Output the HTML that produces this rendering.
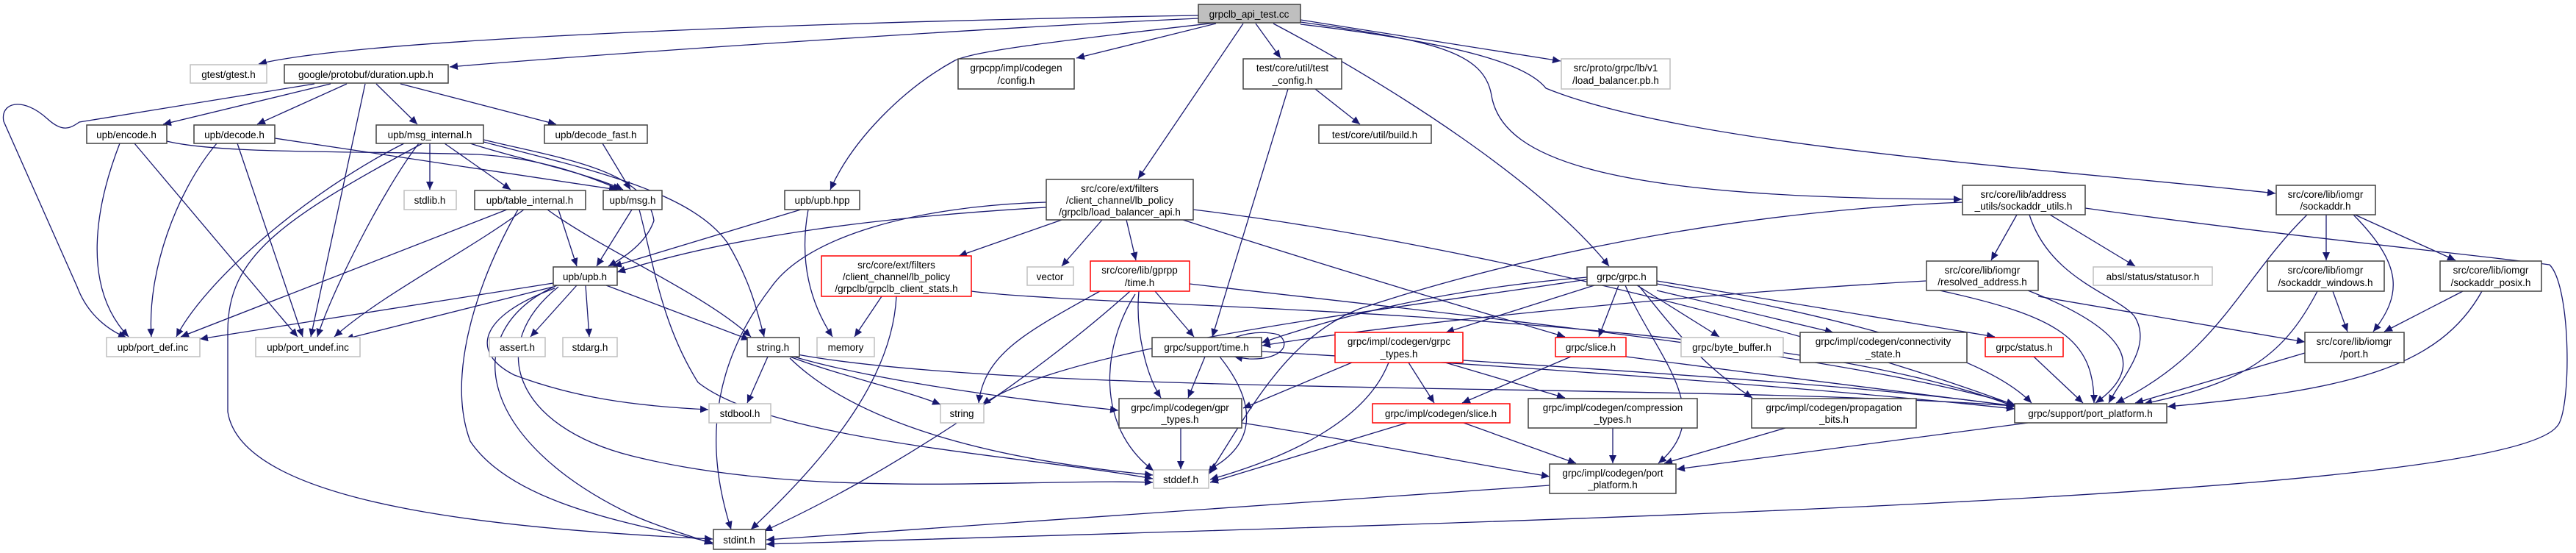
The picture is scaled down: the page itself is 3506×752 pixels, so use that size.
<!DOCTYPE html>
<html><head><meta charset="utf-8"><style>
html,body{margin:0;padding:0;background:#fff;}
svg{display:block;}
text{font-family:"Liberation Sans",sans-serif;font-size:13.5px;fill:#000;text-anchor:middle;}
.e{fill:none;stroke:#191970;stroke-width:1.3;marker-end:url(#a);}
.n{fill:#fff;stroke:#404040;stroke-width:1.5;}
.g{fill:#fff;stroke:#bfbfbf;stroke-width:1.5;}
.r{fill:#fff;stroke:#ff0000;stroke-width:1.5;}
</style></head><body>
<svg width="3506" height="752" viewBox="0 0 3506 752" xmlns="http://www.w3.org/2000/svg">
<defs><marker id="a" markerUnits="userSpaceOnUse" markerWidth="12" markerHeight="10" refX="11" refY="5" orient="auto"><path d="M0,0 L11,5 L0,10 z" fill="#191970"/></marker></defs>
<g>
<!-- root edges -->
<path class="e" d="M1631,21 C1200,28 500,50 352,87"/>
<path class="e" d="M1631,25 C1300,40 800,75 612,91"/>
<path class="e" d="M1655,31 C1400,60 1330,70 1300,82 C1230,120 1160,190 1130,258"/>
<path class="e" d="M1655,32 L1465,79"/>
<path class="e" d="M1692,32 L1549,243"/>
<path class="e" d="M1709,32 L1743,79"/>
<path class="e" d="M1733,32 C1900,120 2100,250 2190,362"/>
<path class="e" d="M1770,27 L2124,83"/>
<path class="e" d="M1770,30 C1950,55 2020,70 2030,130 C2045,220 2200,270 2670,271"/>
<path class="e" d="M1770,33 C2000,60 2080,90 2104,120 C2300,200 2800,230 3097,263"/>
<path class="e" d="M1790,121 L1851,169"/>
<path class="e" d="M1753,121 L1650,458"/>
<!-- duration -->
<path class="e" d="M428,114 L108,166 C95,175 85,180 65,162 C30,130 0,140 5,165 L105,390 C120,430 150,450 172,459"/>
<path class="e" d="M450,114 L222,169"/>
<path class="e" d="M472,114 L350,169"/>
<path class="e" d="M497,114 L423,458"/>
<path class="e" d="M512,114 L568,169"/>
<path class="e" d="M545,114 L757,169"/>
<!-- encode/decode -->
<path class="e" d="M163,195 C130,280 110,390 175,458"/>
<path class="e" d="M183,195 L405,458"/>
<path class="e" d="M227,192 C300,210 500,205 650,210 C740,215 800,240 845,258"/>
<path class="e" d="M295,195 C240,260 200,370 206,458"/>
<path class="e" d="M323,195 L412,458"/>
<path class="e" d="M374,188 L840,258"/>
<!-- msg_internal -->
<path class="e" d="M585,195 L585,258"/>
<path class="e" d="M605,195 L695,258"/>
<path class="e" d="M640,195 C700,215 800,235 848,258"/>
<path class="e" d="M658,190 C760,215 880,230 890,300 C880,330 850,350 828,362"/>
<path class="e" d="M658,193 C800,230 940,260 990,330 C1020,380 1030,420 1040,458"/>
<path class="e" d="M550,195 C420,260 280,380 240,458"/>
<path class="e" d="M570,195 C520,260 450,400 432,458"/>
<path class="e" d="M575,195 C380,300 310,350 310,450 L310,560 C330,690 700,720 970,733"/>
<!-- table_internal -->
<path class="e" d="M760,285 L785,362"/>
<path class="e" d="M745,285 C820,340 960,400 1022,458"/>
<path class="e" d="M690,285 L246,458"/>
<path class="e" d="M713,285 C640,340 520,400 455,458"/>
<path class="e" d="M705,285 C640,400 610,520 640,600 C700,690 880,715 970,738"/>
<path class="e" d="M820,195 L858,258"/>
<!-- msg.h -->
<path class="e" d="M860,285 L812,362"/>
<path class="e" d="M870,285 C890,360 900,440 950,520 C1050,600 1400,620 1569,651"/>
<!-- upb.hpp -->
<path class="e" d="M1090,285 L835,362"/>
<path class="e" d="M1100,285 C1090,340 1095,400 1133,458"/>
<!-- load_balancer_api -->
<path class="e" d="M1424,282 C1200,295 1000,320 840,370"/>
<path class="e" d="M1424,275 C1250,280 1100,320 1050,390 C950,520 970,640 995,720"/>
<path class="e" d="M1445,299 L1305,348"/>
<path class="e" d="M1500,299 L1445,362"/>
<path class="e" d="M1533,299 L1546,354"/>
<path class="e" d="M1610,299 C1800,360 2000,420 2130,458"/>
<path class="e" d="M1624,285 C2000,330 2500,460 2742,551"/>
<!-- client_stats -->
<path class="e" d="M1200,403 L1163,458"/>
<path class="e" d="M1220,403 C1215,500 1150,600 1022,720"/>
<path class="e" d="M1322,396 C1500,420 2400,420 2742,553"/>
<!-- gprpp time -->
<path class="e" d="M1497,396 C1400,450 1340,480 1332,548"/>
<path class="e" d="M1538,396 C1400,520 1200,650 1040,722"/>
<path class="e" d="M1550,396 C1545,450 1560,510 1580,541"/>
<path class="e" d="M1572,396 L1625,458"/>
<path class="e" d="M1545,400 C1500,470 1490,580 1570,640"/>
<path class="e" d="M1619,386 C2000,430 2500,480 2742,550"/>
<!-- upb.h -->
<path class="e" d="M753,385 L272,461"/>
<path class="e" d="M753,390 L470,461"/>
<path class="e" d="M785,388 L722,458"/>
<path class="e" d="M797,388 L802,458"/>
<path class="e" d="M825,388 L1020,462"/>
<path class="e" d="M755,392 C650,430 640,480 700,510 C780,540 860,552 964,557"/>
<path class="e" d="M758,388 C620,450 650,600 860,700 C900,718 940,728 970,740"/>
<path class="e" d="M760,390 C660,470 700,580 860,620 C1100,680 1400,650 1569,656"/>
<!-- string.h -->
<path class="e" d="M1045,485 L1017,548"/>
<path class="e" d="M1075,485 C1140,510 1230,530 1280,550"/>
<path class="e" d="M1080,485 C1200,520 1400,545 1522,558"/>
<path class="e" d="M1075,487 C1150,560 1300,620 1569,646"/>
<path class="e" d="M1085,482 C1400,540 2300,520 2742,552"/>
<!-- support time -->
<path class="e" d="M1680,459 C1700,452 1720,450 1740,455 C1760,470 1740,490 1700,488 C1690,487 1685,486 1680,485" style="marker-end:url(#a)"/>
<path class="e" d="M1640,485 L1617,541"/>
<path class="e" d="M1660,485 C1720,560 1700,610 1645,639"/>
<path class="e" d="M1717,478 C2100,500 2500,530 2742,556"/>
<!-- gpr_types -->
<path class="e" d="M1607,582 L1607,638"/>
<path class="e" d="M1690,575 C1850,600 2000,630 2109,648"/>
<!-- grpc.h -->
<path class="e" d="M2170,388 L1968,452"/>
<path class="e" d="M2203,388 L2176,458"/>
<path class="e" d="M2228,388 L2340,458"/>
<path class="e" d="M2255,395 L2495,452"/>
<path class="e" d="M2160,377 C2000,390 1850,420 1717,466"/>
<path class="e" d="M2160,380 C1900,420 1450,470 1337,550"/>
<path class="e" d="M2255,382 L2715,458"/>
<path class="e" d="M2255,386 C2500,430 2700,480 2765,548"/>
<path class="e" d="M2212,388 C2250,480 2340,560 2257,630"/>
<path class="e" d="M2230,388 C2280,450 2320,500 2385,541"/>
<!-- grpc_types -->
<path class="e" d="M1917,493 L1952,548"/>
<path class="e" d="M1967,493 L2130,541"/>
<path class="e" d="M1840,493 L1692,555"/>
<path class="e" d="M1890,493 C1860,570 1760,620 1647,652"/>
<path class="e" d="M1991,490 C2300,510 2600,530 2742,553"/>
<!-- slice.h -->
<path class="e" d="M2138,485 L1990,548"/>
<path class="e" d="M2213,485 C2400,510 2650,540 2742,552"/>
<!-- codegen slice -->
<path class="e" d="M1915,575 L1647,656"/>
<path class="e" d="M1992,575 L2145,630"/>
<path class="e" d="M2195,582 L2195,630"/>
<path class="e" d="M2430,582 L2265,630"/>
<path class="e" d="M2760,575 L2282,638"/>
<path class="e" d="M2109,660 L1043,734"/>
<path class="e" d="M2768,485 L2835,548"/>
<!-- sockaddr_utils -->
<path class="e" d="M2745,292 L2710,354"/>
<path class="e" d="M2790,292 L2906,362"/>
<path class="e" d="M2762,292 C2790,380 2880,400 2905,430 C2930,470 2890,510 2870,548"/>
<path class="e" d="M2671,275 C2300,290 2000,370 1850,420 C1750,460 1700,560 1645,645"/>
<path class="e" d="M2838,283 C3100,320 3400,350 3470,360 C3500,390 3500,560 3480,580 C3400,680 2000,710 1043,740"/>
<!-- resolved -->
<path class="e" d="M2774,403 L3137,465"/>
<path class="e" d="M2760,395 C2900,450 2920,500 2852,548"/>
<path class="e" d="M2621,382 C2300,400 1900,440 1718,470"/>
<path class="e" d="M2640,395 C2800,430 2850,460 2850,548"/>
<!-- sockaddr.h -->
<path class="e" d="M3166,292 L3166,354"/>
<path class="e" d="M3205,292 L3342,354"/>
<path class="e" d="M3203,292 C3270,360 3270,400 3230,451"/>
<path class="e" d="M3140,292 C3050,380 3020,480 2880,548"/>
<path class="e" d="M3154,396 C3110,480 3060,520 2918,549"/>
<path class="e" d="M3175,396 L3195,451"/>
<path class="e" d="M3352,396 L3245,451"/>
<path class="e" d="M3378,396 C3320,500 3200,530 2950,553"/>
<path class="e" d="M3137,480 L2906,548"/>
</g>
<g>
<rect class="n" x="1631" y="6" width="139" height="25" style="fill:#bfbfbf"/><text x="1700" y="24">grpclb_api_test.cc</text>
<rect class="g" x="259" y="88" width="104" height="25"/><text x="311" y="106">gtest/gtest.h</text>
<rect class="n" x="387" y="88" width="223" height="25"/><text x="498" y="106">google/protobuf/duration.upb.h</text>
<rect class="n" x="1304" y="80" width="158" height="41"/><text x="1383" y="97">grpcpp/impl/codegen</text><text x="1383" y="114">/config.h</text>
<rect class="n" x="1692" y="80" width="134" height="41"/><text x="1759" y="97">test/core/util/test</text><text x="1759" y="114">_config.h</text>
<rect class="g" x="2125" y="80" width="148" height="41"/><text x="2199" y="97">src/proto/grpc/lb/v1</text><text x="2199" y="114">/load_balancer.pb.h</text>
<rect class="n" x="118" y="170" width="109" height="25"/><text x="172" y="188">upb/encode.h</text>
<rect class="n" x="264" y="170" width="110" height="25"/><text x="319" y="188">upb/decode.h</text>
<rect class="n" x="512" y="170" width="146" height="25"/><text x="585" y="188">upb/msg_internal.h</text>
<rect class="n" x="741" y="170" width="140" height="25"/><text x="811" y="188">upb/decode_fast.h</text>
<rect class="n" x="1795" y="170" width="153" height="25"/><text x="1871" y="188">test/core/util/build.h</text>
<rect class="n" x="1424" y="244" width="200" height="55"/><text x="1524" y="261">src/core/ext/filters</text><text x="1524" y="277">/client_channel/lb_policy</text><text x="1524" y="293">/grpclb/load_balancer_api.h</text>
<rect class="n" x="2671" y="252" width="167" height="40"/><text x="2754" y="269">src/core/lib/address</text><text x="2754" y="285">_utils/sockaddr_utils.h</text>
<rect class="n" x="3098" y="252" width="135" height="40"/><text x="3165" y="269">src/core/lib/iomgr</text><text x="3165" y="285">/sockaddr.h</text>
<rect class="g" x="550" y="259" width="71" height="26"/><text x="585" y="277">stdlib.h</text>
<rect class="n" x="646" y="259" width="151" height="26"/><text x="721" y="277">upb/table_internal.h</text>
<rect class="n" x="821" y="259" width="80" height="26"/><text x="861" y="277">upb/msg.h</text>
<rect class="n" x="1068" y="259" width="102" height="26"/><text x="1119" y="277">upb/upb.hpp</text>
<rect class="n" x="753" y="363" width="87" height="25"/><text x="796" y="381">upb/upb.h</text>
<rect class="r" x="1118" y="348" width="204" height="55"/><text x="1220" y="365">src/core/ext/filters</text><text x="1220" y="381">/client_channel/lb_policy</text><text x="1220" y="397">/grpclb/grpclb_client_stats.h</text>
<rect class="g" x="1398" y="363" width="63" height="25"/><text x="1429" y="381">vector</text>
<rect class="r" x="1484" y="355" width="135" height="41"/><text x="1551" y="372">src/core/lib/gprpp</text><text x="1551" y="389">/time.h</text>
<rect class="n" x="2160" y="363" width="95" height="25"/><text x="2207" y="381">grpc/grpc.h</text>
<rect class="n" x="2622" y="355" width="152" height="40"/><text x="2698" y="372">src/core/lib/iomgr</text><text x="2698" y="388">/resolved_address.h</text>
<rect class="g" x="2849" y="363" width="162" height="25"/><text x="2930" y="381">absl/status/statusor.h</text>
<rect class="n" x="3086" y="355" width="159" height="41"/><text x="3165" y="372">src/core/lib/iomgr</text><text x="3165" y="389">/sockaddr_windows.h</text>
<rect class="n" x="3321" y="355" width="138" height="41"/><text x="3390" y="372">src/core/lib/iomgr</text><text x="3390" y="389">/sockaddr_posix.h</text>
<rect class="g" x="145" y="459" width="127" height="26"/><text x="208" y="477">upb/port_def.inc</text>
<rect class="g" x="348" y="459" width="142" height="26"/><text x="419" y="477">upb/port_undef.inc</text>
<rect class="g" x="666" y="459" width="76" height="26"/><text x="704" y="477">assert.h</text>
<rect class="g" x="766" y="459" width="74" height="26"/><text x="803" y="477">stdarg.h</text>
<rect class="n" x="1017" y="459" width="71" height="26"/><text x="1052" y="477">string.h</text>
<rect class="g" x="1112" y="459" width="78" height="26"/><text x="1151" y="477">memory</text>
<rect class="n" x="1568" y="459" width="149" height="26"/><text x="1642" y="477">grpc/support/time.h</text>
<rect class="r" x="1817" y="452" width="174" height="41"/><text x="1904" y="469">grpc/impl/codegen/grpc</text><text x="1904" y="486">_types.h</text>
<rect class="r" x="2117" y="459" width="96" height="26"/><text x="2165" y="477">grpc/slice.h</text>
<rect class="g" x="2288" y="459" width="139" height="26"/><text x="2357" y="477">grpc/byte_buffer.h</text>
<rect class="n" x="2450" y="452" width="227" height="41"/><text x="2563" y="469">grpc/impl/codegen/connectivity</text><text x="2563" y="486">_state.h</text>
<rect class="r" x="2702" y="459" width="106" height="26"/><text x="2755" y="477">grpc/status.h</text>
<rect class="n" x="3137" y="452" width="135" height="41"/><text x="3204" y="469">src/core/lib/iomgr</text><text x="3204" y="486">/port.h</text>
<rect class="g" x="965" y="549" width="84" height="26"/><text x="1007" y="567">stdbool.h</text>
<rect class="g" x="1280" y="549" width="59" height="26"/><text x="1309" y="567">string</text>
<rect class="n" x="1523" y="542" width="167" height="40"/><text x="1606" y="559">grpc/impl/codegen/gpr</text><text x="1606" y="575">_types.h</text>
<rect class="r" x="1868" y="549" width="187" height="26"/><text x="1961" y="567">grpc/impl/codegen/slice.h</text>
<rect class="n" x="2080" y="542" width="230" height="40"/><text x="2195" y="559">grpc/impl/codegen/compression</text><text x="2195" y="575">_types.h</text>
<rect class="n" x="2384" y="542" width="224" height="40"/><text x="2496" y="559">grpc/impl/codegen/propagation</text><text x="2496" y="575">_bits.h</text>
<rect class="n" x="2742" y="549" width="207" height="26"/><text x="2845" y="567">grpc/support/port_platform.h</text>
<rect class="n" x="2109" y="631" width="172" height="40"/><text x="2195" y="648">grpc/impl/codegen/port</text><text x="2195" y="664">_platform.h</text>
<rect class="g" x="1570" y="639" width="75" height="25"/><text x="1607" y="657">stddef.h</text>
<rect class="n" x="971" y="720" width="71" height="27"/><text x="1006" y="739">stdint.h</text>
</g>
</svg>
</body></html>
